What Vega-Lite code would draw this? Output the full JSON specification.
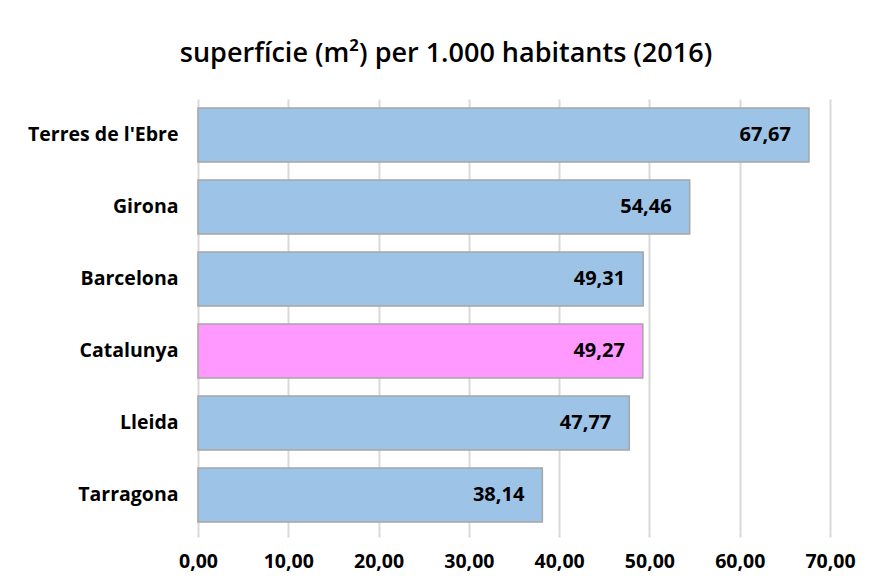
{
  "$schema": "https://vega.github.io/schema/vega-lite/v6.json",
  "width": 632,
  "height": 432,
  "autosize": {"type": "none"},
  "padding": {"left": 198, "top": 99, "right": 44, "bottom": 56},
  "background": "white",
  "config": {
    "view": {"stroke": null},
    "font": "Open Sans",
    "locale": {"number": {"decimal": ",", "thousands": ".", "grouping": [3], "currency": ["", " €"]}}
  },
  "title": {
    "text": "superfície (m²) per 1.000 habitants (2016)",
    "font": "Open Sans",
    "fontSize": 27,
    "fontWeight": 600,
    "color": "#000000",
    "anchor": "middle",
    "offset": 31,
    "dx": -68
  },
  "data": {
    "values": [
      {"zona": "Terres de l'Ebre", "valor": 67.67, "tipus": "regio"},
      {"zona": "Girona", "valor": 54.46, "tipus": "regio"},
      {"zona": "Barcelona", "valor": 49.31, "tipus": "regio"},
      {"zona": "Catalunya", "valor": 49.27, "tipus": "total"},
      {"zona": "Lleida", "valor": 47.77, "tipus": "regio"},
      {"zona": "Tarragona", "valor": 38.14, "tipus": "regio"}
    ]
  },
  "encoding": {
    "y": {
      "field": "zona",
      "type": "nominal",
      "sort": null,
      "scale": {"paddingInner": 0.25, "paddingOuter": 0.125},
      "axis": {
        "title": null,
        "ticks": false,
        "domain": false,
        "labelFont": "Open Sans",
        "labelFontSize": 19.5,
        "labelFontWeight": "bold",
        "labelColor": "#000000",
        "labelPadding": 20,
        "labelLimit": 250
      }
    },
    "x": {
      "field": "valor",
      "type": "quantitative",
      "scale": {"domain": [0, 70]},
      "axis": {
        "title": null,
        "values": [0, 10, 20, 30, 40, 50, 60, 70],
        "format": ".2f",
        "grid": true,
        "gridColor": "#d9d9d9",
        "gridWidth": 2,
        "domain": false,
        "ticks": true,
        "tickColor": "#d9d9d9",
        "tickWidth": 2,
        "tickSize": 6,
        "labelFlush": false,
        "labelOverlap": false,
        "labelFont": "Open Sans",
        "labelFontSize": 19.5,
        "labelFontWeight": "bold",
        "labelColor": "#000000",
        "labelPadding": 15
      }
    }
  },
  "layer": [
    {
      "mark": {"type": "bar", "stroke": "#a6a6a6", "strokeWidth": 1.5},
      "encoding": {
        "color": {
          "field": "tipus",
          "type": "nominal",
          "scale": {"domain": ["regio", "total"], "range": ["#9dc3e6", "#ff99ff"]},
          "legend": null
        }
      }
    },
    {
      "mark": {"type": "text", "align": "right", "baseline": "middle", "dx": -18, "font": "Open Sans", "fontSize": 20, "fontWeight": "bold", "color": "#000000"},
      "encoding": {
        "text": {"field": "valor", "type": "quantitative", "format": ".2f"}
      }
    }
  ]
}
